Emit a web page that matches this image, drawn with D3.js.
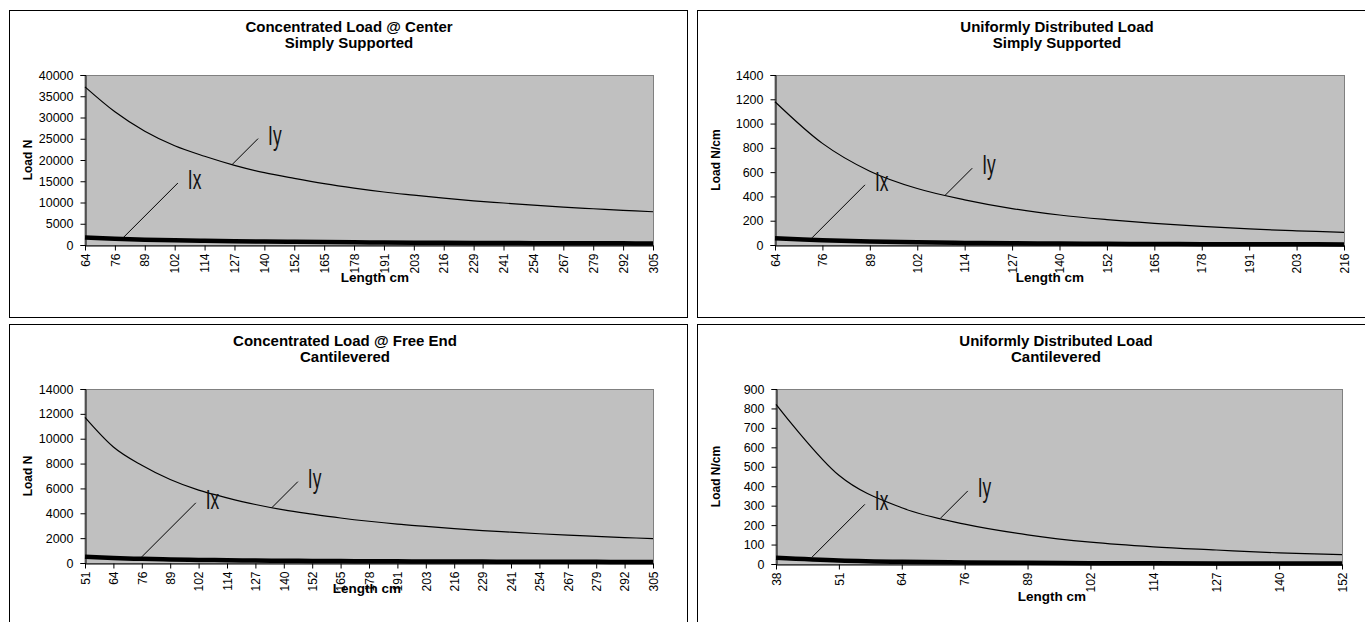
<!DOCTYPE html>
<html>
<head>
<meta charset="utf-8">
<script src="https://cdn.jsdelivr.net/npm/d3@7"></script>
<style>
  html, body { margin: 0; padding: 0; background: #fff; overflow: hidden; }
  svg { display: block; font-family: 'Liberation Sans', Arial, sans-serif; }
  .tick text { fill: #000; }
</style>
</head>
<body>
<svg id="chart" width="1365" height="622"></svg>
<script>
// lengths (cm) and load values
const lengthsCenter = [64, 76, 89, 102, 114, 127, 140, 152, 165, 178, 191, 203, 216, 229, 241, 254, 267, 279, 292, 305]
const iyCenter = [37200, 31330, 26750, 23340, 20880, 18750, 17010, 15660, 14430, 13380, 12470, 11730, 11020, 10400, 9880, 9370, 8920, 8530, 8150, 7820]
const ixCenter = [1750, 1474, 1258, 1098, 982, 882, 800, 737, 679, 629, 586, 552, 519, 489, 465, 441, 419, 401, 384, 367]
const yTicksCenter = [0, 5000, 10000, 15000, 20000, 25000, 30000, 35000, 40000]

const lengthsUniform = [64, 76, 89, 102, 114, 127, 140, 152, 165, 178, 191, 203, 216]
const iyUniform = [1180, 837, 608, 465, 372, 300, 247, 209, 178, 153, 132, 117, 104]
const ixUniform = [55, 39, 28, 22, 17, 14, 11.5, 9.8, 8.3, 7.1, 6.2, 5.5, 4.8]
const yTicksUniform = [0, 200, 400, 600, 800, 1000, 1200, 1400]

const lengthsFreeEnd = [51, 64, 76, 89, 102, 114, 127, 140, 152, 165, 178, 191, 203, 216, 229, 241, 254, 267, 279, 292, 305]
const iyFreeEnd = [11720, 9340, 7865, 6716, 5860, 5243, 4706, 4270, 3932, 3623, 3358, 3129, 2944, 2767, 2610, 2480, 2353, 2239, 2142, 2047, 1960]
const ixFreeEnd = [500, 398, 336, 287, 250, 224, 201, 182, 168, 155, 143, 134, 126, 118, 111, 106, 100, 96, 91, 87, 84]
const yTicksFreeEnd = [0, 2000, 4000, 6000, 8000, 10000, 12000, 14000]

const lengthsCantilever = [38, 51, 64, 76, 89, 102, 114, 127, 140, 152]
const iyCantilever = [821, 456, 289, 205, 150, 112, 88, 72, 57, 48]
const ixCantilever = [32, 18, 11, 8, 6, 4.4, 3.6, 2.9, 2.4, 2]
const yTicksCantilever = [0, 100, 200, 300, 400, 500, 600, 700, 800, 900]

const panels = [
  {
    title: ['Concentrated Load @ Center', 'Simply Supported'],
    yLabel: 'Load N',
    lengths: lengthsCenter, iy: iyCenter, ix: ixCenter, yTicks: yTicksCenter,
    box: { x: 9, y: 10, w: 678, h: 307 },
    plot: { left: 85, right: 653, top: 75, bottom: 245 },
    titleX: 349, titleY: 32, xLabelX: 375, xLabelY: 282,
    notes: [
      { label: 'Iy', series: 'iy', at: 4.92, len: 26 },
      { label: 'Ix', series: 'ix', at: 1.3, len: 54 }
    ]
  },
  {
    title: ['Uniformly Distributed Load', 'Simply Supported'],
    yLabel: 'Load N/cm',
    lengths: lengthsUniform, iy: iyUniform, ix: ixUniform, yTicks: yTicksUniform,
    box: { x: 697, y: 10, w: 700, h: 307 },
    plot: { left: 775, right: 1344, top: 75, bottom: 245 },
    titleX: 1057, titleY: 32, xLabelX: 1050, xLabelY: 282,
    notes: [
      { label: 'Iy', series: 'iy', at: 3.59, len: 27 },
      { label: 'Ix', series: 'ix', at: 0.78, len: 53 }
    ]
  },
  {
    title: ['Concentrated Load @ Free End', 'Cantilevered'],
    yLabel: 'Load N',
    lengths: lengthsFreeEnd, iy: iyFreeEnd, ix: ixFreeEnd, yTicks: yTicksFreeEnd,
    box: { x: 9, y: 324, w: 678, h: 320 },
    plot: { left: 85, right: 653, top: 389, bottom: 563 },
    titleX: 345, titleY: 346, xLabelX: 367, xLabelY: 593,
    notes: [
      { label: 'Iy', series: 'iy', at: 6.58, len: 26 },
      { label: 'Ix', series: 'ix', at: 2.0, len: 54 }
    ]
  },
  {
    title: ['Uniformly Distributed Load', 'Cantilevered'],
    yLabel: 'Load N/cm',
    lengths: lengthsCantilever, iy: iyCantilever, ix: ixCantilever, yTicks: yTicksCantilever,
    box: { x: 697, y: 324, w: 700, h: 320 },
    plot: { left: 776, right: 1342, top: 389, bottom: 564 },
    titleX: 1056, titleY: 346, xLabelX: 1052, xLabelY: 601,
    notes: [
      { label: 'Iy', series: 'iy', at: 2.62, len: 27 },
      { label: 'Ix', series: 'ix', at: 0.57, len: 53 }
    ]
  }
]

const svg = d3.select('#chart')

const drawPanel = p => {
  const g = svg.append('g')

  g.append('rect')
    .attr('x', p.box.x + 0.5).attr('y', p.box.y + 0.5)
    .attr('width', p.box.w).attr('height', p.box.h)
    .attr('fill', '#fff').attr('stroke', '#000').attr('stroke-width', 1)

  const x = d3.scalePoint().domain(p.lengths).range([p.plot.left, p.plot.right]).padding(0)
  const yMax = d3.max(p.yTicks)
  const y = d3.scaleLinear().domain([0, yMax]).range([p.plot.bottom, p.plot.top])

  // plot area
  g.append('rect')
    .attr('x', p.plot.left).attr('y', p.plot.top + 0.5)
    .attr('width', p.plot.right - p.plot.left + 0.5).attr('height', p.plot.bottom - p.plot.top)
    .attr('fill', '#c0c0c0').attr('stroke', '#808080').attr('stroke-width', 1)

  // title
  g.append('text')
    .attr('x', p.titleX).attr('y', p.titleY)
    .attr('text-anchor', 'middle')
    .style('font-size', '15px').style('font-weight', 'bold')
    .selectAll('tspan')
    .data(p.title)
    .enter()
    .append('tspan')
    .attr('x', p.titleX)
    .attr('dy', (_, i) => (i ? 16 : 0))
    .text(d => d)

  // excel-style smoothed lines
  const line = d3.line()
    .x((_, i) => x(p.lengths[i]))
    .y(d => y(d))
    .curve(d3.curveCatmullRom.alpha(0))

  g.append('path').datum(p.iy)
    .attr('d', line).attr('fill', 'none').attr('stroke', '#000').attr('stroke-width', 1.2)
  g.append('path').datum(p.ix)
    .attr('d', line).attr('fill', 'none').attr('stroke', '#000').attr('stroke-width', 4.5)

  // axes
  const yAxis = g.append('g')
    .attr('transform', `translate(${p.plot.left + 0.5},0)`)
    .call(d3.axisLeft(y).tickValues(p.yTicks).tickFormat(d3.format('d')).tickSize(5).tickPadding(7))
  yAxis.selectAll('text').style('font-size', '12.5px').style('font-family', "'Liberation Sans', Arial, sans-serif")

  const xAxis = g.append('g')
    .attr('transform', `translate(0,${p.plot.bottom + 0.5})`)
    .call(d3.axisBottom(x).tickSize(5).tickSizeOuter(0))
  xAxis.selectAll('text')
    .attr('transform', 'rotate(-90)')
    .attr('x', -8).attr('y', 0).attr('dy', '0.35em')
    .style('text-anchor', 'end')
    .style('font-size', '12px').style('font-family', "'Liberation Sans', Arial, sans-serif")

  g.selectAll('.domain, .tick line').attr('stroke', '#000')

  // axis titles
  g.append('text')
    .attr('x', p.xLabelX).attr('y', p.xLabelY)
    .attr('text-anchor', 'middle')
    .style('font-size', '13.5px').style('font-weight', 'bold')
    .text('Length cm')

  g.append('text')
    .attr('transform', `translate(${p.box.x + 19},${(p.plot.top + p.plot.bottom) / 2}) rotate(-90)`)
    .attr('text-anchor', 'middle')
    .attr('dy', '0.35em')
    .style('font-size', '12px').style('font-weight', 'bold')
    .text(p.yLabel)

  // Ix / Iy callouts
  p.notes.forEach(n => {
    const values = p[n.series]
    const i0 = Math.floor(n.at)
    const t = n.at - i0
    const v = values[i0] + (values[Math.min(i0 + 1, values.length - 1)] - values[i0]) * t
    const ax = x(p.lengths[0]) + n.at * x.step()
    const ay = y(v) - (n.series === 'ix' ? 2 : 0)
    const ex = ax + n.len
    const ey = ay - n.len

    g.append('line')
      .attr('x1', ax).attr('y1', ay).attr('x2', ex).attr('y2', ey)
      .attr('stroke', '#000').attr('stroke-width', 1)

    // condensed label: squeeze a regular face horizontally
    g.append('text')
      .attr('transform', `translate(${ex + 10},${ey + 6}) scale(0.62,1)`)
      .style('font-size', '28px').attr('fill', '#111')
      .text(n.label)
  })
}

panels.forEach(drawPanel)
</script>
</body>
</html>
